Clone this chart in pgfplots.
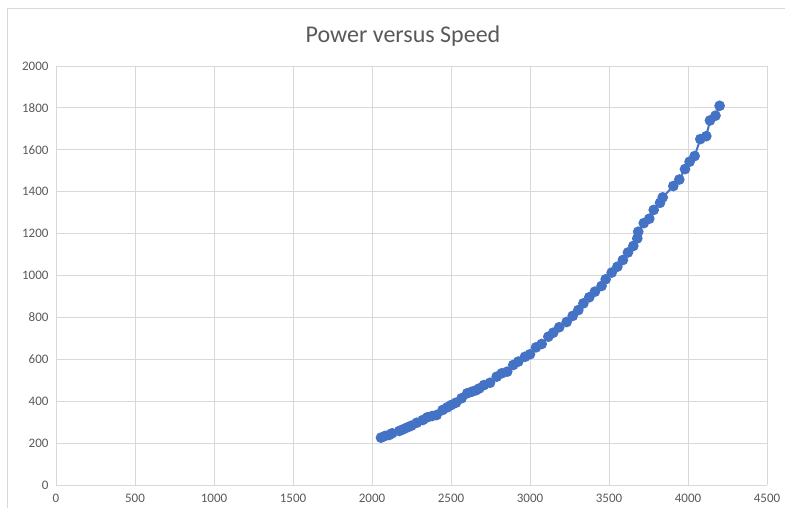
\documentclass[border=0pt]{standalone}
\usepackage{pgfplots}
\pgfplotsset{compat=1.18}
\usepackage{fontspec}
\setmainfont{Carlito}
\definecolor{excelblue}{HTML}{4472C4}
\definecolor{gridgray}{HTML}{D9D9D9}
\definecolor{textgray}{HTML}{595959}
\begin{document}
\begin{tikzpicture}[x=1pt,y=1pt]
\path[use as bounding box] (0,0) rectangle (785,508);
\draw[gridgray, line width=0.8pt] (7,0) -- (7,500) -- (785,500);
\node[text=textgray, font=\fontsize{24}{28}\selectfont] at (403,472) {Power versus Speed};
\begin{axis}[
  at={(56pt,23pt)}, anchor=south west,
  scale only axis, width=711pt, height=419pt,
  xmin=0, xmax=4500, ymin=0, ymax=2000,
  xtick={0,500,...,4500}, ytick={0,200,...,2000},
  grid=major,
  grid style={gridgray, line width=0.8pt},
  axis line style={draw=none},
  tick style={draw=none},
  every tick label/.append style={text=textgray, font=\fontsize{13}{15}\selectfont},
  /pgf/number format/assume math mode=true,
  /pgf/number format/set thousands separator={},
  xticklabel style={yshift=-6pt},
  yticklabel style={xshift=-4pt},
  clip=false,
]
\addplot[excelblue, line width=2pt, mark=*, mark size=4.3pt, mark options={fill=excelblue, draw=excelblue}] coordinates {
(2057,226) (2082,234) (2109,239) (2128,247) (2173,258) (2198,266) (2224,275)
(2249,283) (2283,297) (2321,310) (2350,323) (2380,329) (2409,334) (2447,358)
(2477,371) (2502,382) (2532,393) (2567,414) (2603,438) (2631,445) (2658,452)
(2679,461) (2709,477) (2747,488) (2789,517) (2821,533) (2856,541) (2894,573)
(2926,589) (2968,612) (3000,624) (3038,657) (3074,673) (3116,708) (3147,727)
(3185,753) (3232,778) (3270,807) (3306,835) (3338,867) (3375,896) (3411,923)
(3453,950) (3479,982) (3517,1014) (3553,1042) (3588,1074) (3620,1110) (3654,1141)
(3679,1177) (3685,1209) (3720,1250) (3755,1271) (3783,1313) (3823,1347) (3840,1373)
(3907,1427) (3945,1458) (3981,1508) (4010,1543) (4042,1570) (4078,1651) (4116,1665)
(4139,1740) (4174,1763) (4200,1810)
};
\draw[gridgray, line width=0.8pt] (axis cs:0,0) -- (axis cs:4500,0);
\end{axis}
\end{tikzpicture}
\end{document}
